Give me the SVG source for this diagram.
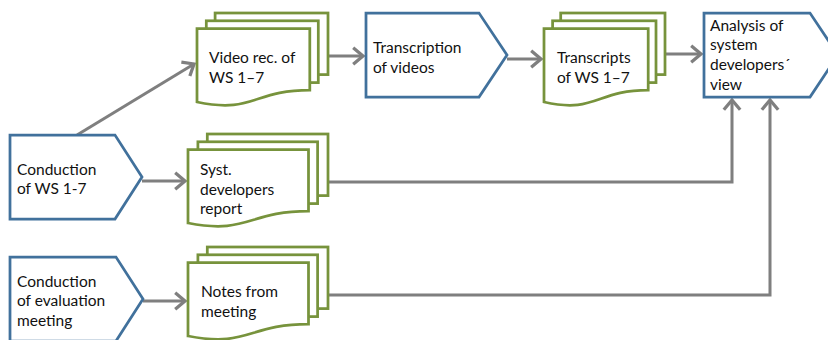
<svg xmlns="http://www.w3.org/2000/svg" width="828" height="340" viewBox="0 0 828 340">
  <style>
    .proc { fill: #ffffff; stroke: #41719C; stroke-width: 2.75; stroke-linejoin: miter; }
    .doc { fill: #ffffff; stroke: #77933C; stroke-width: 2.75; stroke-linejoin: miter; }
    .conn { fill: none; stroke: #7F7F7F; stroke-width: 3; marker-end: url(#arrow); }
    text { font-family: Lato, "Open Sans", "Noto Sans", sans-serif; font-size: 15.5px; fill: #111111; }
  </style>
  <defs>
    <marker id="arrow" markerUnits="userSpaceOnUse" markerWidth="24" markerHeight="24" refX="0" refY="0" viewBox="-13 -11 16 22" orient="auto">
      <path d="M-9,-7.5 L0,0 L-9,7.5" fill="none" stroke="#7F7F7F" stroke-width="3" stroke-linejoin="miter"/>
    </marker>
  </defs>

  <!-- connectors -->
  <g id="connectors">
    <path class="conn" d="M77,135 L194,64"/>
    <path class="conn" d="M328,56 L363,56"/>
    <path class="conn" d="M507,59 L541,59"/>
    <path class="conn" d="M665,54 L701,54"/>
    <path class="conn" d="M142,181 L185,181"/>
    <path class="conn" d="M328,182 L732,182 L732,100"/>
    <path class="conn" d="M143,301 L185,301"/>
    <path class="conn" d="M328,295 L770,295 L770,100"/>
  </g>

  <!-- process steps -->
  <g id="conduction-ws">
    <path class="proc" d="M10,135 L115,135 L142,177 L115,219 L10,219 Z"/>
    <text x="17" y="175">Conduction</text>
    <text x="17" y="194">of WS 1-7</text>
  </g>

  <g id="conduction-eval">
    <path class="proc" d="M10,257 L116,257 L143,299 L116,341 L10,341 Z"/>
    <text x="17" y="287">Conduction</text>
    <text x="17" y="306">of evaluation</text>
    <text x="17" y="326">meeting</text>
  </g>

  <g id="transcription">
    <path class="proc" d="M366,13 L479,13 L507,55 L479,97 L366,97 Z"/>
    <text x="373" y="53">Transcription</text>
    <text x="373" y="73">of videos</text>
  </g>

  <g id="analysis">
    <path class="proc" d="M704,13 L810,13 L838,55 L810,97 L704,97 Z"/>
    <text x="710" y="31">Analysis of</text>
    <text x="710" y="50">system</text>
    <text x="710" y="70">developers´</text>
    <text x="710" y="90">view</text>
  </g>

  <!-- document stacks -->
  <g id="video-rec">
    <rect class="doc" x="215.1" y="13" width="112.9" height="61.6"/>
    <rect class="doc" x="206.3" y="20.8" width="112" height="61.8"/>
    <path class="doc" d="M197,28.7 L309.8,28.7 L309.8,90.1 C253.3,90.1 253.3,113.8 197,102 Z"/>
    <text x="209" y="63">Video rec. of</text>
    <text x="209" y="83">WS 1–7</text>
  </g>

  <g id="transcripts">
    <rect class="doc" x="560.7" y="13" width="104.3" height="61.6"/>
    <rect class="doc" x="552.6" y="20.8" width="103.4" height="61.8"/>
    <path class="doc" d="M544,28.7 L648.2,28.7 L648.2,90.1 C596,90.1 596,113.8 544,102 Z"/>
    <text x="557" y="63">Transcripts</text>
    <text x="557" y="83">of WS 1–7</text>
  </g>

  <g id="syst-report">
    <rect class="doc" x="207.3" y="134" width="120.7" height="61.6"/>
    <rect class="doc" x="197.9" y="141.8" width="119.7" height="61.8"/>
    <path class="doc" d="M188,149.7 L308.5,149.7 L308.5,211.1 C248.2,211.1 248.2,234.8 188,223 Z"/>
    <text x="200" y="175">Syst.</text>
    <text x="200" y="195">developers</text>
    <text x="200" y="214">report</text>
  </g>

  <g id="notes">
    <rect class="doc" x="207.3" y="247" width="120.7" height="61.6"/>
    <rect class="doc" x="197.9" y="254.8" width="119.7" height="61.8"/>
    <path class="doc" d="M188,262.7 L308.5,262.7 L308.5,324.1 C248.2,324.1 248.2,347.8 188,336 Z"/>
    <text x="201" y="297">Notes from</text>
    <text x="201" y="317">meeting</text>
  </g>
</svg>
